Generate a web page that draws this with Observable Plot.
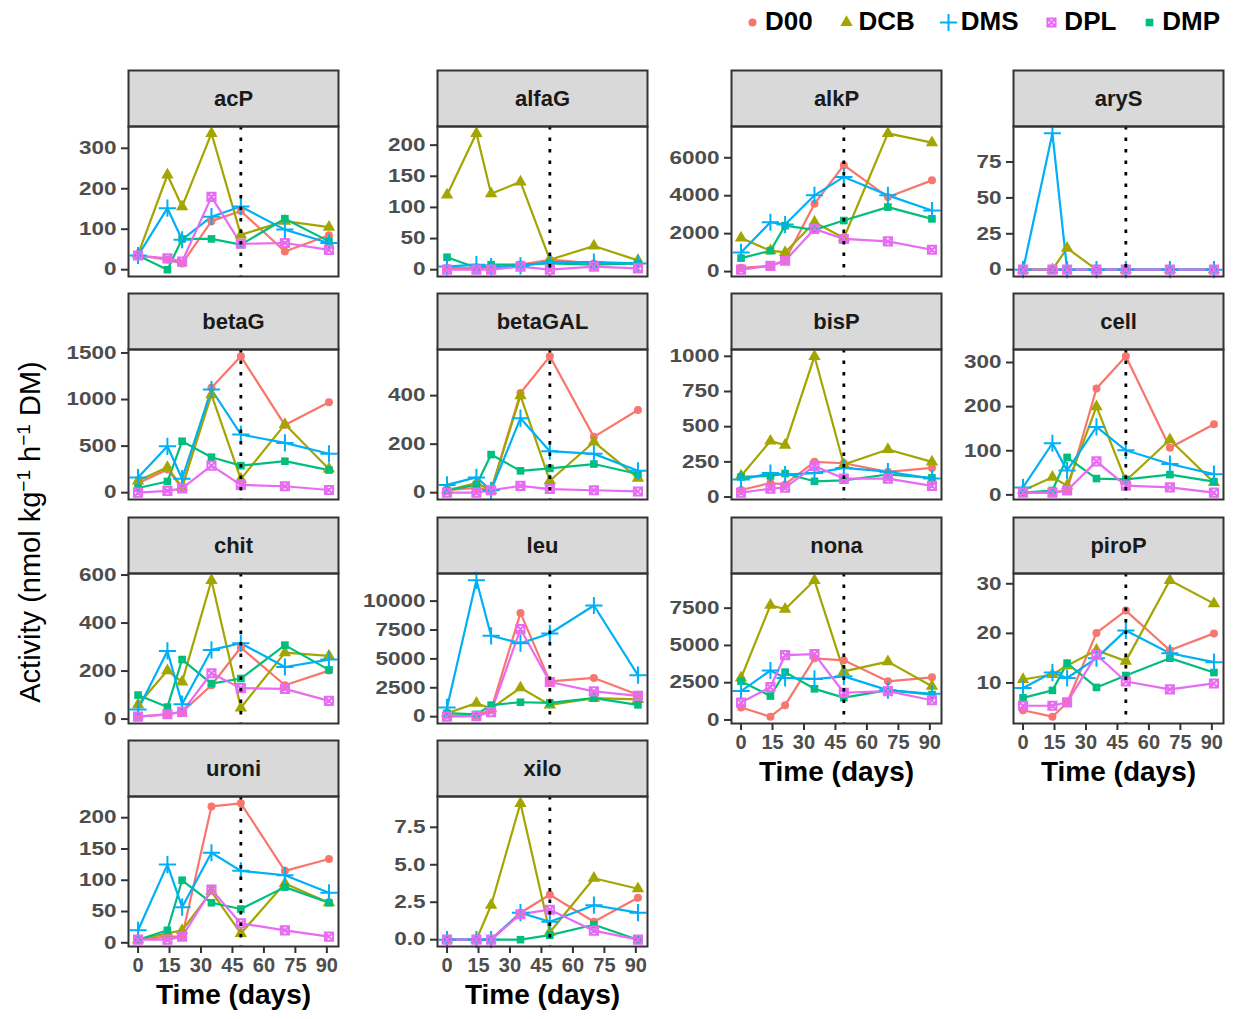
<!DOCTYPE html>
<html><head><meta charset="utf-8">
<script src="https://cdn.jsdelivr.net/npm/d3@7"></script>
<script src="https://cdn.jsdelivr.net/npm/@observablehq/plot@0.6"></script>
<style>
body{margin:0;background:#fff;}
#chart{position:relative;width:1236px;height:1019px;font-family:"Liberation Sans",Arial,sans-serif;overflow:hidden;background:#fff;}
.panel{position:absolute;}
#ytitle{position:absolute;left:30px;top:532px;transform:translate(-50%,-50%) rotate(-90deg);white-space:nowrap;font-size:29px;color:#000;}
#ytitle sup{font-size:19px;}
#legend{position:absolute;left:744px;width:476px;top:6px;display:flex;justify-content:space-between;align-items:center;font-weight:bold;font-size:26px;color:#000;}
#legend .item{display:flex;align-items:center;}
#legend svg{margin-right:5px;}
</style></head><body><div id="chart"></div>
<script>
// ---------- data ----------
const times = [0, 14, 21, 35, 49, 70, 91];
const xTicks = [0, 15, 30, 45, 60, 75, 90];
const cutDay = 49;
const seriesNames = ["D00", "DCB", "DMS", "DPL", "DMP"];
const seriesColors = ["#F8766D", "#A3A500", "#00B0F6", "#E76BF3", "#00BF7D"];
const drawOrder = ["D00", "DCB", "DMP", "DMS", "DPL"];
const panelNames = ["acP","alfaG","alkP","aryS","betaG","betaGAL","bisP","cell","chit","leu","nona","piroP","uroni","xilo"];

const acP = {
  D00: [35, 25, 15, 120, 145, 45, 85],
  DCB: [38, 234, 156, 337, 86, 120, 105],
  DMS: [35, 152, 74, 131, 156, 99, 66],
  DPL: [35, 28, 20, 180, 64, 66, 49],
  DMP: [35, 0, 76, 76, 62, 126, 70]
};
const alfaG = {
  D00: [3, 3, 3, 8, 16, 10, 10],
  DCB: [120, 219, 122, 141, 16, 38, 15],
  DMS: [5, 8, 5, 6, 12, 12, 10],
  DPL: [0, 0, 0, 5, 0, 5, 2],
  DMP: [20, 3, 8, 8, 10, 8, 10]
};
const alkP = {
  D00: [200, 300, 600, 3575, 5610, 3930, 4810],
  DCB: [1770, 1100, 1010, 2600, 1770, 7290, 6800],
  DMS: [1010, 2600, 2480, 4020, 4990, 4020, 3220],
  DPL: [100, 300, 570, 2250, 1720, 1590, 1150],
  DMP: [710, 1100, 2420, 2200, 2690, 3400, 2780]
};
const aryS = {
  D00: [0, 0, 0, 0, 0, 0, 0],
  DCB: [0, 0, 15, 0, 0, 0, 0],
  DMS: [0, 95, 0, 0, 0, 0, 0],
  DPL: [0, 0, 0, 0, 0, 0, 0],
  DMP: [0, 0, 0, 0, 0, 0, 0]
};
const betaG = {
  D00: [100, 250, 50, 1126, 1464, 726, 970],
  DCB: [127, 272, 60, 1053, 145, 734, 254],
  DMS: [163, 498, 150, 1108, 625, 534, 418],
  DPL: [0, 20, 47, 290, 84, 69, 29],
  DMP: [50, 120, 552, 381, 290, 338, 243]
};
const betaGAL = {
  D00: [10, 20, 10, 411, 562, 230, 341],
  DCB: [10, 40, 10, 400, 49, 209, 60],
  DMS: [32, 63, 10, 307, 171, 160, 90],
  DPL: [0, 0, 10, 28, 15, 10, 5],
  DMP: [10, 32, 157, 90, 100, 118, 77]
};
const bisP = {
  D00: [50, 100, 90, 250, 240, 179, 207],
  DCB: [150, 398, 369, 1000, 231, 338, 250],
  DMS: [124, 170, 160, 170, 207, 180, 131],
  DPL: [31, 60, 67, 221, 131, 131, 79],
  DMP: [143, 150, 167, 112, 119, 160, 136]
};
const cell = {
  D00: [5, 5, 10, 241, 314, 107, 160],
  DCB: [10, 40, 21, 200, 32, 125, 28],
  DMS: [17, 117, 55, 154, 101, 70, 47],
  DPL: [5, 5, 10, 76, 21, 17, 5],
  DMP: [5, 10, 85, 37, 35, 46, 30]
};
const chit = {
  D00: [10, 20, 30, 141, 298, 141, 202],
  DCB: [60, 202, 155, 578, 47, 277, 263],
  DMS: [40, 284, 62, 288, 316, 217, 248],
  DPL: [10, 20, 30, 191, 129, 126, 76],
  DMP: [100, 50, 248, 148, 169, 308, 205]
};
const leu = {
  D00: [100, 100, 600, 8980, 3060, 3350, 1900],
  DCB: [300, 1170, 700, 2500, 1020, 1600, 1500],
  DMS: [800, 11800, 7000, 6360, 7200, 9620, 3590],
  DPL: [0, 50, 400, 7580, 3000, 2190, 1800],
  DMP: [300, 200, 1000, 1250, 1200, 1600, 1020]
};
const nona = {
  D00: [836, 220, 990, 4135, 4003, 2595, 2859],
  DCB: [2815, 7697, 7433, 9369, 3255, 3915, 2265],
  DMS: [1935, 3320, 2815, 2750, 2925, 2001, 1760],
  DPL: [1166, 2199, 4354, 4420, 1825, 1935, 1320],
  DMP: [2600, 1605, 3211, 2089, 1495, 2000, 1700]
};
const piroP = {
  D00: [4.5, 3.2, 6.0, 20.1, 24.6, 16.6, 20.0],
  DCB: [10.7, 11.7, 13.5, 16.6, 14.4, 30.7, 26.0],
  DMS: [9.0, 12.1, 11.0, 15.0, 20.6, 16.0, 14.2],
  DPL: [5.4, 5.4, 6.1, 15.7, 10.3, 8.7, 9.9],
  DMP: [7.0, 8.5, 14.0, 9.1, 11.5, 15.0, 12.1]
};
const uroni = {
  D00: [5, 10, 10, 218, 223, 115, 134],
  DCB: [5, 15, 20, 82, 15, 95, 64],
  DMS: [20, 125, 57, 144, 115, 108, 80],
  DPL: [5, 5, 10, 85, 31, 20, 10],
  DMP: [5, 20, 100, 64, 54, 89, 64]
};
const xilo = {
  D00: [0, 0, 0, 1.8, 3.0, 1.2, 2.8],
  DCB: [0, 0, 2.3, 9.1, 0.5, 4.1, 3.4],
  DMS: [0, 0, 0, 1.8, 1.2, 2.3, 1.8],
  DPL: [0, 0, 0, 1.7, 2.0, 0.6, 0],
  DMP: [0, 0, 0, 0, 0.3, 1.0, 0]
};
const panelData = {acP, alfaG, alkP, aryS, betaG, betaGAL, bisP, cell, chit, leu, nona, piroP, uroni, xilo};

const yTicks = {
  acP: [0, 100, 200, 300],
  alfaG: [0, 50, 100, 150, 200],
  alkP: [0, 2000, 4000, 6000],
  aryS: [0, 25, 50, 75],
  betaG: [0, 500, 1000, 1500],
  betaGAL: [0, 200, 400],
  bisP: [0, 250, 500, 750, 1000],
  cell: [0, 100, 200, 300],
  chit: [0, 200, 400, 600],
  leu: [0, 2500, 5000, 7500, 10000],
  nona: [0, 2500, 5000, 7500],
  piroP: [10, 20, 30],
  uroni: [0, 50, 100, 150, 200],
  xilo: [0, 2.5, 5, 7.5]
};

// ---------- layout ----------
const colLeft = [128, 437, 731, 1013];
const rowTop = [70, 293, 517, 740];
const plotW = 210, plotH = 150, stripH = 56, ML = 76, MR = 3, MB = 78;

const colorOf = Object.fromEntries(seriesNames.map((s, i) => [s, seriesColors[i]]));
const boxCross = {
  draw(ctx, size) {
    const s = Math.sqrt(size) / 2;
    ctx.moveTo(-s, -s); ctx.lineTo(s, -s); ctx.lineTo(s, s); ctx.lineTo(-s, s); ctx.closePath();
    ctx.moveTo(-s, -s); ctx.lineTo(s, s);
    ctx.moveTo(s, -s); ctx.lineTo(-s, s);
  }
};
const symbolOf = {
  D00: {symbol: "circle", fill: true, r: 4},
  DCB: {symbol: "triangle", fill: true, r: 4.6},
  DMS: {symbol: "plus", fill: false, r: 5.6},
  DPL: {symbol: boxCross, fill: false, r: 4.6},
  DMP: {symbol: "square", fill: true, r: 4.3}
};

const chart = document.getElementById("chart");
const xExp = (d3.max(times) - d3.min(times)) * 0.05;

panelNames.forEach((name, i) => {
  const col = i % 4, row = Math.floor(i / 4);
  const isBottom = i >= 10;
  const data = panelData[name];
  const recs = [];
  for (const s of seriesNames) times.forEach((t, k) => recs.push({t, v: data[s][k], s}));
  const [lo, hi] = d3.extent(recs, d => d.v);
  const e = (hi - lo) * 0.05;
  const marks = [
    Plot.frame({fill: "#D9D9D9", stroke: "#333", strokeWidth: 2, insetTop: -stripH, insetBottom: plotH}),
    Plot.text([name], {frameAnchor: "top", dy: -stripH / 2, text: d => d, fontSize: 22, fontWeight: "bold", fill: "#1a1a1a", lineAnchor: "middle"}),
    Plot.axisY(yTicks[name], {tickSize: 7, tickPadding: 5, fontSize: 18, fontWeight: "bold", fill: "#4D4D4D", stroke: "#333", strokeWidth: 2,
      tickFormat: name === "xilo" ? d3.format(".1f") : d3.format("d"), label: null})
  ];
  for (const s of drawOrder) {
    const sub = recs.filter(d => d.s === s);
    marks.push(Plot.line(sub, {x: "t", y: "v", stroke: colorOf[s], strokeWidth: 2.2}));
  }
  for (const s of drawOrder) {
    const sub = recs.filter(d => d.s === s);
    const sym = symbolOf[s];
    marks.push(Plot.dot(sub, sym.fill
      ? {x: "t", y: "v", symbol: sym.symbol, r: sym.r, fill: colorOf[s], stroke: "none"}
      : {x: "t", y: "v", symbol: sym.symbol, r: sym.r, fill: "none", stroke: colorOf[s], strokeWidth: 2}));
  }
  marks.push(Plot.ruleX([cutDay], {stroke: "#000", strokeWidth: 2.8, strokeDasharray: "3.5,8"}));
  marks.push(Plot.frame({stroke: "#333", strokeWidth: 2}));
  if (isBottom) {
    marks.push(Plot.axisX(xTicks, {tickSize: 7, tickPadding: 4, fontSize: 20, fontWeight: "bold", fill: "#4D4D4D", stroke: "#333", strokeWidth: 2, label: null}));
    marks.push(Plot.text(["Time (days)"], {frameAnchor: "bottom", dy: 57, text: d => d, fontSize: 28, fontWeight: "bold", fill: "#000"}));
  }
  const svg = Plot.plot({
    width: ML + plotW + MR,
    height: stripH + plotH + (isBottom ? MB : 3),
    marginLeft: ML, marginRight: MR, marginTop: stripH, marginBottom: isBottom ? MB : 3,
    style: {fontFamily: "'Liberation Sans', Arial, sans-serif", background: "transparent", overflow: "visible"},
    x: {domain: [d3.min(times) - xExp, d3.max(times) + xExp], axis: null},
    y: {domain: [lo - e, hi + e], axis: null, label: null},
    marks
  });
  // y tick labels in the reference are drawn horizontally widened
  svg.querySelectorAll('g[aria-label="y-axis tick label"] text').forEach(t => {
    const tr = t.getAttribute("transform") || "";
    t.setAttribute("transform", tr + " scale(1.25,1)");
  });
  const wrap = document.createElement("div");
  wrap.className = "panel";
  wrap.style.left = (colLeft[col] - ML) + "px";
  wrap.style.top = rowTop[row] + "px";
  wrap.appendChild(svg);
  chart.appendChild(wrap);
});

// y title
const yt = document.createElement("div");
yt.id = "ytitle";
yt.innerHTML = "Activity (nmol kg<sup>\u22121</sup> h<sup>\u22121</sup> DM)";
chart.appendChild(yt);

// legend
const legend = document.createElement("div");
legend.id = "legend";
seriesNames.forEach((s, i) => {
  const item = document.createElement("div");
  item.className = "item";
  const sym = symbolOf[s];
  const lg = Plot.plot({
    width: 16, height: 16, margin: 0,
    x: {domain: [0, 1], axis: null}, y: {domain: [0, 1], axis: null},
    style: {background: "transparent", overflow: "visible"},
    marks: [Plot.dot([s], sym.fill
      ? {x: () => 0.5, y: () => 0.5, symbol: sym.symbol, r: sym.r, fill: colorOf[s]}
      : {x: () => 0.5, y: () => 0.5, symbol: sym.symbol, r: sym.r, fill: "none", stroke: colorOf[s], strokeWidth: 2})]
  });
  item.appendChild(lg);
  const tx = document.createElement("span");
  tx.textContent = s;
  item.appendChild(tx);
  legend.appendChild(item);
});
chart.appendChild(legend);
</script>
</body></html>
